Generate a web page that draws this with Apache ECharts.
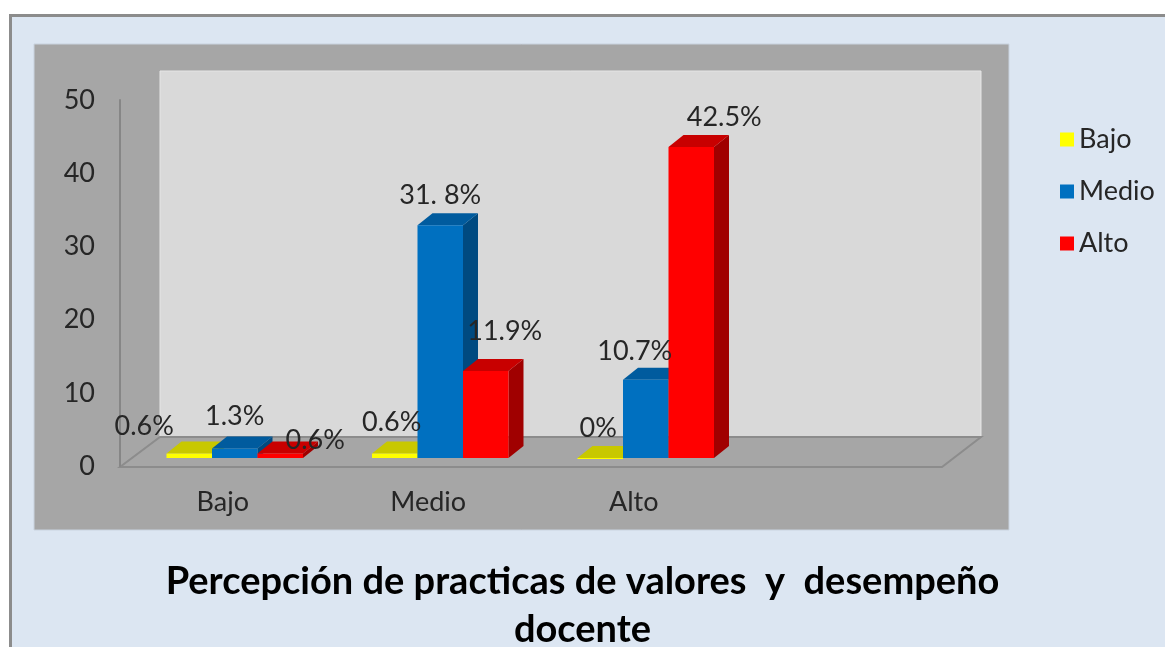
<!DOCTYPE html>
<html lang="es">
<head>
<meta charset="utf-8">
<title>Percepción de practicas de valores y desempeño docente</title>
<script src="https://cdn.jsdelivr.net/npm/echarts@6/dist/echarts.min.js"></script>
<style>
  html, body { margin: 0; padding: 0; background: #ffffff; }
  #grafico { width: 1165px; height: 647px; }
</style>
</head>
<body>
<div id="grafico"></div>
<script>
// Datos del gráfico
var categorias = ['Bajo', 'Medio', 'Alto', ''];
var serieBajo = [0.6, 0.6, 0];
var serieMedio = [1.3, 31.8, 10.7];
var serieAlto = [0.6, 11.9, 42.5];
var etiquetasBajo = ['0.6%', '0.6%', '0%'];
var etiquetasMedio = ['1.3%', '31. 8%', '10.7%'];
var etiquetasAlto = ['0.6%', '11.9%', '42.5%'];
var ejeYMin = 0;
var ejeYMax = 50;
var ejeYIntervalo = 10;

// Colores de cada serie (frente, tapa, lado)
var estilos = [
    { nombre: 'Bajo', valores: serieBajo, etiquetas: etiquetasBajo, frente: '#ffff00', tapa: '#c8c800', lado: '#a3a300' },
    { nombre: 'Medio', valores: serieMedio, etiquetas: etiquetasMedio, frente: '#0070c0', tapa: '#005b9e', lado: '#004a80' },
    { nombre: 'Alto', valores: serieAlto, etiquetas: etiquetasAlto, frente: '#ff0000', tapa: '#c80000', lado: '#a00000' }
];

// Ajuste manual de las etiquetas (como en el original de Excel)
var ajusteEtiquetas = [
    [[-45, 3], [-3, -1], [-2, 0]],
    [[0, -2], [0, 0], [-11, 2]],
    [[35, 17], [19, -10], [33, 0]]
];

var fuente = 'Lato, "Open Sans", sans-serif';
var tamTexto = 27;
var profX = 15;   // profundidad 3D
var profY = -12;

var chart = echarts.init(document.getElementById('grafico'));

function crearSerie(s, i) {
    var datos = s.valores.map(function (v, c) { return [c, v]; });
    return {
        name: s.nombre,
        type: 'custom',
        xAxisIndex: 1,
        yAxisIndex: 1,
        clip: false,
        z: 10,
        itemStyle: { color: s.frente },
        encode: { x: 0, y: 1 },
        data: datos,
        renderItem: function (params, api) {
            var c = api.value(0);
            var v = api.value(1);
            var base = api.coord([c, 0]);
            var tope = api.coord([c, v]);
            var banda = api.size([1, 0])[0];
            var ancho = banda * 0.2214;
            var x0 = base[0] - 1.5 * ancho + i * ancho;
            var yT = tope[1];
            var yB = base[1];
            var aj = ajusteEtiquetas[i][c];
            return {
                type: 'group',
                children: [
                    {
                        type: 'polygon',
                        shape: { points: [[x0 + ancho, yT], [x0 + ancho + profX, yT + profY], [x0 + ancho + profX, yB + profY], [x0 + ancho, yB]] },
                        style: { fill: s.lado }
                    },
                    {
                        type: 'polygon',
                        shape: { points: [[x0, yT], [x0 + profX, yT + profY], [x0 + ancho + profX, yT + profY], [x0 + ancho, yT]] },
                        style: { fill: s.tapa }
                    },
                    {
                        type: 'rect',
                        shape: { x: x0, y: yT, width: ancho, height: Math.max(yB - yT, 1) },
                        style: { fill: s.frente }
                    },
                    {
                        type: 'text',
                        x: x0 + ancho / 2 + aj[0],
                        y: yT - 30 + aj[1],
                        z2: 20,
                        style: {
                            text: s.etiquetas[c],
                            fill: '#262626',
                            fontSize: tamTexto,
                            fontFamily: fuente,
                            align: 'center',
                            verticalAlign: 'middle'
                        }
                    }
                ]
            };
        }
    };
}

var option = {
    backgroundColor: '#ffffff',
    animation: false,
    title: {
        text: 'Percepción de practicas de valores  y  desempeño\ndocente',
        left: 'center',
        top: 553,
        textStyle: {
            fontFamily: fuente,
            fontSize: 38,
            fontWeight: 'bold',
            lineHeight: 48,
            color: '#000000'
        }
    },
    legend: {
        data: ['Bajo', 'Medio', 'Alto'],
        orient: 'vertical',
        left: 1055,
        top: 121,
        icon: 'rect',
        itemWidth: 14,
        itemHeight: 14,
        itemGap: 25,
        textStyle: { fontFamily: fuente, fontSize: tamTexto, color: '#262626' }
    },
    graphic: {
        elements: [
            // marco exterior
            { type: 'rect', z: -10, shape: { x: 10.5, y: 15.5, width: 1200, height: 700 }, style: { fill: '#dce6f2', stroke: '#8c8c8c', lineWidth: 3 } },
            // área del gráfico
            { type: 'rect', z: -9, shape: { x: 34, y: 44, width: 975, height: 486 }, style: { fill: '#a6a6a6', stroke: '#c9d3df', lineWidth: 1 } },
            // pared del fondo
            { type: 'rect', z: -8, shape: { x: 160, y: 71, width: 821, height: 366 }, style: { fill: '#d9d9d9', stroke: '#e6e6e6', lineWidth: 1 } },
            // piso
            { type: 'polygon', z: -8, shape: { points: [[160, 437], [981, 437], [942, 467], [120, 467]] }, style: { fill: '#a6a6a6', stroke: '#8c8c8c', lineWidth: 2 } }
        ]
    },
    grid: [
        { left: 120, right: 223, top: 100, bottom: 181 },
        { left: 132, right: 211, top: 92, bottom: 189 }
    ],
    xAxis: [
        {
            type: 'category',
            gridIndex: 0,
            data: categorias,
            axisLine: { show: false },
            axisTick: { show: false },
            axisLabel: { margin: 23, fontFamily: fuente, fontSize: tamTexto, color: '#262626' }
        },
        { type: 'category', gridIndex: 1, data: categorias, show: false }
    ],
    yAxis: [
        {
            type: 'value',
            gridIndex: 0,
            min: ejeYMin,
            max: ejeYMax,
            interval: ejeYIntervalo,
            axisLine: { show: true, lineStyle: { color: '#868686', width: 2 } },
            axisTick: { show: false },
            splitLine: { show: false },
            axisLabel: { margin: 25, fontFamily: fuente, fontSize: tamTexto, color: '#262626' }
        },
        { type: 'value', gridIndex: 1, min: ejeYMin, max: ejeYMax, show: false }
    ],
    series: estilos.map(crearSerie)
};

chart.setOption(option);
</script>
</body>
</html>
